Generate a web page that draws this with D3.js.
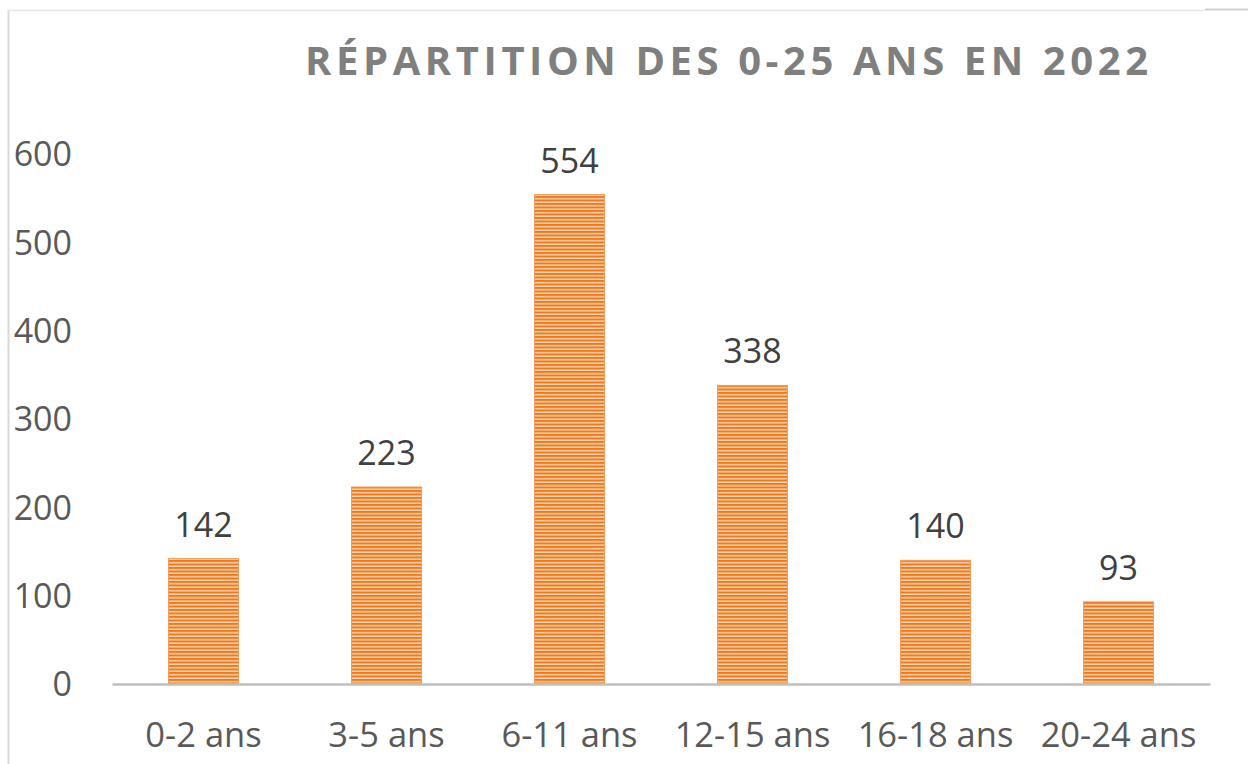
<html lang="fr">
<head>
    <meta charset="UTF-8">
    <title>Répartition des 0-25 ans en 2022</title>
    <script src="https://d3js.org/d3.v7.min.js"></script>
    <style>
        body, html {
            margin: 0;
            padding: 0;
            background: #fff;
            overflow: hidden;
        }
        text {
            font-family: "Open Sans", "Noto Sans", sans-serif;
        }
    </style>
</head>
<body>
<div id="chart"></div>
<script>
    // data
    const categories = ["0-2 ans", "3-5 ans", "6-11 ans", "12-15 ans", "16-18 ans", "20-24 ans"];
    const values = [142, 223, 554, 338, 140, 93];
    const yTicks = [0, 100, 200, 300, 400, 500, 600];
    const title = "RÉPARTITION DES 0-25 ANS EN 2022";

    const width = 1248, height = 764;
    const margin = {left: 112, right: 38, top: 154, bottom: 80};

    const svg = d3.select("#chart").append("svg")
        .attr("width", width)
        .attr("height", height);

    // striped fill for the bars
    const defs = svg.append("defs");
    const pat = defs.append("pattern")
        .attr("id", "stripes")
        .attr("patternUnits", "userSpaceOnUse")
        .attr("width", 8)
        .attr("height", 3.5);
    pat.append("rect").attr("width", 8).attr("height", 3.5).attr("fill", "#fbd6b8");
    pat.append("rect").attr("width", 8).attr("height", 2).attr("fill", "#f07818");

    // chart frame (only left and top edges visible)
    svg.append("line")
        .attr("x1", 8.5).attr("x2", 8.5).attr("y1", 10).attr("y2", height)
        .attr("stroke", "#d9d9d9").attr("stroke-width", 2);
    svg.append("line")
        .attr("x1", 8).attr("x2", 1205).attr("y1", 10.5).attr("y2", 10.5)
        .attr("stroke", "#e6e6e6").attr("stroke-width", 1.5);
    svg.append("line")
        .attr("x1", 1205).attr("x2", width).attr("y1", 9.5).attr("y2", 9.5)
        .attr("stroke", "#d0d0d0").attr("stroke-width", 2);

    const x = d3.scaleBand()
        .domain(categories)
        .range([margin.left, width - margin.right])
        .paddingInner(0.618)
        .paddingOuter(0.309);

    const y = d3.scaleLinear()
        .domain([0, 600])
        .range([684, margin.top]);

    // title
    svg.append("text")
        .attr("x", 305)
        .attr("y", 75)
        .attr("textLength", 843)
        .attr("lengthAdjust", "spacing")
        .attr("font-size", 40)
        .attr("font-weight", "bold")
        .attr("fill", "#7f7f7f")
        .text(title);

    // y axis labels (no gridlines)
    svg.append("g").selectAll("text")
        .data(yTicks)
        .enter().append("text")
        .attr("x", 72)
        .attr("y", d => y(d))
        .attr("dy", "0.36em")
        .attr("text-anchor", "end")
        .attr("font-size", 34)
        .attr("fill", "#595959")
        .text(d => d);

    // bars
    svg.append("g").selectAll("rect")
        .data(values)
        .enter().append("rect")
        .attr("x", (d, i) => x(categories[i]))
        .attr("y", d => y(d))
        .attr("width", x.bandwidth())
        .attr("height", d => y(0) - y(d))
        .attr("fill", "url(#stripes)")
        .attr("stroke", "#f29a5a")
        .attr("stroke-width", 1);

    // value labels
    svg.append("g").selectAll("text")
        .data(values)
        .enter().append("text")
        .attr("x", (d, i) => x(categories[i]) + x.bandwidth() / 2)
        .attr("y", d => y(d) - 22)
        .attr("text-anchor", "middle")
        .attr("font-size", 34)
        .attr("fill", "#404040")
        .text(d => d);

    // category axis
    const xAxis = svg.append("g")
        .attr("transform", `translate(0,${y(0)})`)
        .call(d3.axisBottom(x).tickSize(0).tickPadding(0));
    xAxis.select(".domain")
        .attr("stroke", "#bfbfbf")
        .attr("stroke-width", 2.5);
    xAxis.selectAll(".tick text")
        .attr("y", 63)
        .attr("dy", 0)
        .attr("font-size", 34.5)
        .attr("font-family", "\"Open Sans\", \"Noto Sans\", sans-serif")
        .attr("fill", "#595959");
</script>
</body>
</html>
